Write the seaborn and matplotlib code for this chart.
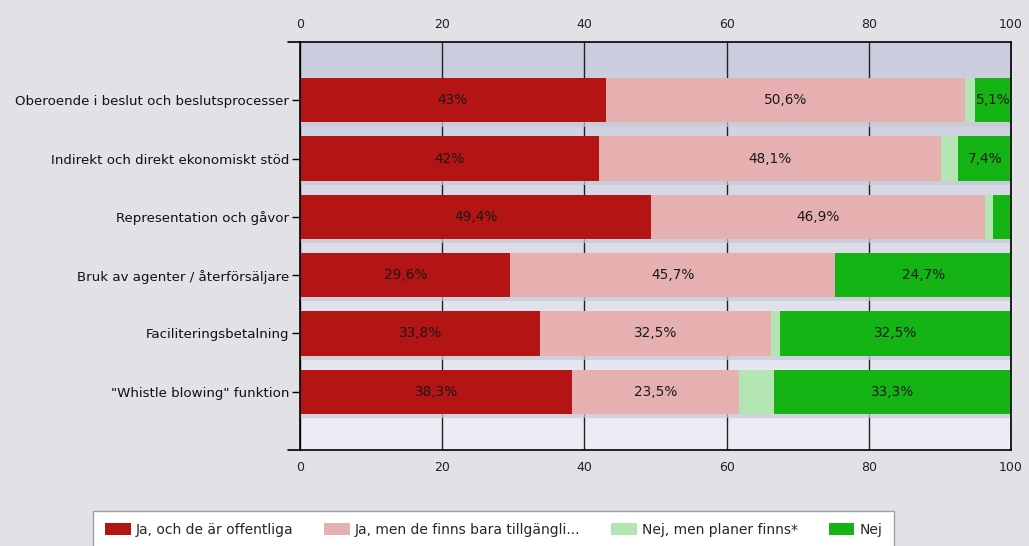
import numpy as np
import pandas as pd
import matplotlib
matplotlib.use("Agg")
import matplotlib.pyplot as plt
import seaborn as sns
from matplotlib.patches import Patch
from matplotlib.colors import LinearSegmentedColormap

categories = [
    "Oberoende i beslut och beslutsprocesser",
    "Indirekt och direkt ekonomiskt stöd",
    "Representation och gåvor",
    "Bruk av agenter / återförsäljare",
    "Faciliteringsbetalning",
    "\"Whistle blowing\" funktion",
]
series_names = [
    "Ja, och de är offentliga",
    "Ja, men de finns bara tillgängli...",
    "Nej, men planer finns*",
    "Nej",
]
ja_offentliga = [43.0, 42.0, 49.4, 29.6, 33.8, 38.3]
ja_tillgangliga = [50.6, 48.1, 46.9, 45.7, 32.5, 23.5]
nej_planer = [1.3, 2.5, 1.2, 0.0, 1.2, 4.9]
nej = [5.1, 7.4, 2.5, 24.7, 32.5, 33.3]
x_ticks = [0, 20, 40, 60, 80, 100]

colors = ["#b31414", "#e6b0b0", "#b3e6b3", "#14b414"]
series = [ja_offentliga, ja_tillgangliga, nej_planer, nej]

sns.set_theme(style="white")
plt.rcParams["font.family"] = ["DejaVu Sans"]

fig = plt.figure(figsize=(10.29, 5.46), dpi=100)
fig.patch.set_facecolor("#e1e1e6")
ax = fig.add_axes([300 / 1029, 1 - 450 / 546, 711 / 1029, 408 / 546])

# gradient background
grad = np.linspace(0, 1, 256).reshape(-1, 1)
cmap = LinearSegmentedColormap.from_list("bg", ["#cacbdd", "#eeeef6"])
ax.imshow(grad, aspect="auto", cmap=cmap, extent=[0, 1, 0, 1],
          transform=ax.transAxes, zorder=0)

df = pd.DataFrame({"cat": categories})
cum = np.cumsum(np.array(series), axis=0)
for i in range(len(series)):
    df[f"c{i}"] = cum[i]

ypos = np.arange(len(categories))
# subtle drop shadow under each bar
ax.barh(ypos + 0.07, cum[-1], height=0.76, color="#c8c8d4", alpha=0.7,
        zorder=1.5, linewidth=0)

for i in reversed(range(len(series))):
    sns.barplot(data=df, x=f"c{i}", y="cat", orient="h", color=colors[i],
                width=0.76, saturation=1, ax=ax, zorder=2, linewidth=0)

for i, vals in enumerate(series):
    for j, v in enumerate(vals):
        if v >= 5:
            center = cum[i][j] - v / 2
            txt = f"{v:g}".replace(".", ",") + "%"
            ax.text(center, j, txt, ha="center", va="center", fontsize=9.8,
                    color="#1a1a1a", zorder=3)

ax.set_xlim(0, 100)
ax.set_xticks(x_ticks)
ax.set_xticklabels([str(t) for t in x_ticks])
ax.set_xlabel("")
ax.set_ylabel("")
ax.grid(axis="x", color="#222222", linewidth=1.0, zorder=1)
ax.grid(axis="y", visible=False)
ax.set_axisbelow(True)
ax.tick_params(axis="x", which="both", top=True, bottom=True, labeltop=True,
               labelbottom=True, length=0, pad=8, labelsize=9, colors="#222222")
ax.tick_params(axis="y", left=True, length=6, width=1, color="black",
               labelsize=9.6, pad=2, labelcolor="#111111")
ax.set_ylim(6, -1)
for s in ax.spines.values():
    s.set_visible(True)
    s.set_color("black")
    s.set_linewidth(1.2)
# extend horizontal axis lines slightly to the left
for yy in (0, 1):
    ax.plot([-0.017, 0], [yy, yy], transform=ax.transAxes, color="black",
            lw=1.2, clip_on=False, zorder=5)

handles = [Patch(facecolor=c, edgecolor="none") for c in colors]
leg = fig.legend(handles, series_names, loc="upper left",
                 bbox_to_anchor=(93 / 1029, 1 - 511 / 546), ncol=4,
                 fontsize=10, frameon=True, fancybox=False, framealpha=1,
                 handlelength=1.87, handleheight=0.94, handletextpad=0.36,
                 columnspacing=2.2, borderpad=0.85, borderaxespad=0)
leg.get_frame().set_facecolor("white")
leg.get_frame().set_edgecolor("#a0a0a0")
leg.get_frame().set_linewidth(1.0)

fig.savefig("out.png", dpi=100, facecolor=fig.get_facecolor())
